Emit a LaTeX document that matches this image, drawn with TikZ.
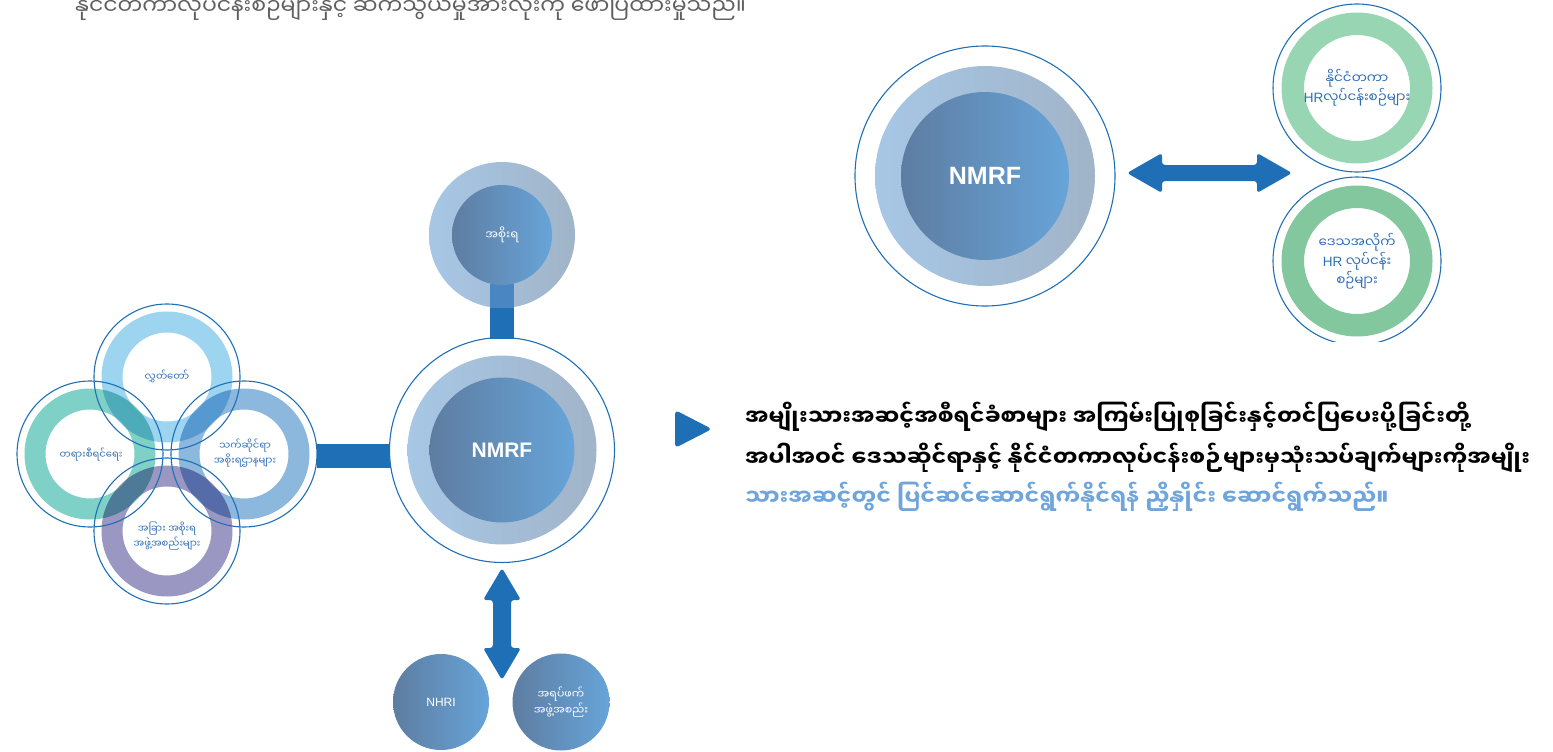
\documentclass[tikz,border=0pt]{standalone}
\usepackage{fontspec}
\setmainfont{Liberation Sans}
\newfontfamily\mm[Script=Myanmar]{Noto Sans Myanmar UI}
\usetikzlibrary{calc}
\definecolor{conn}{HTML}{1F6FB7}
\definecolor{connlt}{HTML}{4A86C1}
\definecolor{ringL}{HTML}{A7C7E6}
\definecolor{ringR}{HTML}{A1B4C8}
\definecolor{coreL}{HTML}{5E7DA1}
\definecolor{coreR}{HTML}{67A4D9}
\definecolor{lblue}{HTML}{2F6DB5}
\definecolor{txtgray}{HTML}{5F5F5F}
\definecolor{txtblue}{HTML}{6FA5DA}
\definecolor{cTop}{HTML}{9DD4F0}
\definecolor{cLeft}{HTML}{7FD0C6}
\definecolor{cRight}{HTML}{8CB8DD}
\definecolor{cBot}{HTML}{9B97C3}
\definecolor{gLight}{HTML}{98D5B3}
\definecolor{gDark}{HTML}{83C79E}
\tikzset{
  ringsh/.style={left color=ringL, right color=ringR, draw=none},
  coredisk/.style={circle, inner sep=0pt, left color=coreL, right color=coreR, draw=none, text=white, align=center},
  outl/.style={draw=conn, line width=1.1pt},
  lbl/.style={text=lblue, align=center, inner sep=0pt, font=\mm\fontsize{10}{12.5}\selectfont},
  glbl/.style={text=lblue, align=center, inner sep=0pt, font=\mm\fontsize{13.5}{15}\selectfont},
  bodytxt/.style={anchor=base west, inner sep=0pt, font=\mm\bfseries\fontsize{22.2}{26}\selectfont},
}
\begin{document}
\begin{tikzpicture}[x=1pt,y=-1pt]
\useasboundingbox (0,0) rectangle (1553,752);

% header line (cut at top)
\node[anchor=base west, inner sep=0pt, text=txtgray, font=\mm\fontsize{22}{26}\selectfont] (hdr) at (75,15) {နိုင်ငံတကာလုပ်ငန်းစဉ်များနှင့် ဆက်သွယ်မှုအားလုံးကို ဖော်ပြထားမှုသည်။};

% ---------- left cluster ----------
\coordinate (cT) at (167,377);
\coordinate (cL) at (90,454);
\coordinate (cR) at (244,454);
\coordinate (cB) at (167,531);

% horizontal bar to main NMRF
\fill[conn] (317,444) rectangle (392,468);

\begin{scope}[blend group=multiply]
  \fill[cTop, even odd rule] (cT) circle (65.5pt) (cT) circle (44.5pt);
  \fill[cLeft, even odd rule] (cL) circle (65.5pt) (cL) circle (44.5pt);
  \fill[cRight, even odd rule] (cR) circle (65.5pt) (cR) circle (44.5pt);
  \fill[cBot, even odd rule] (cB) circle (65.5pt) (cB) circle (44.5pt);
\end{scope}
\foreach \c in {cT,cL,cR,cB} \draw[outl] (\c) circle (73pt);

\node[lbl] (parl) at (167,376) {လွှတ်တော်};
\node[lbl] (jud) at (91,455) {တရားစီရင်ရေး};
\node[lbl] (mins) at (245,453) {သက်ဆိုင်ရာ\\အစိုးရဌာနများ};
\node[lbl] (othg) at (167,536) {အခြား အစိုးရ\\အဖွဲ့အစည်းများ};

% ---------- main NMRF ----------
\coordinate (m) at (502,450);
\draw[outl, fill=white] (m) circle (112.5pt);
\path[ringsh] (m) circle (94.5pt);
\node[coredisk, minimum size=145pt, font=\bfseries\fontsize{21}{24}\selectfont] (nmrf) at (m) {NMRF};

% ---------- government circle ----------
\coordinate (g) at (502,235);
\path[ringsh] (g) circle (73pt);
\fill[connlt] (490,284) rectangle (514,308);
\fill[conn] (490,308) rectangle (514,339);
\node[coredisk, minimum size=100pt, font=\mm\fontsize{12}{14}\selectfont] (gov) at (g) {အစိုးရ};

% ---------- vertical double arrow ----------
\coordinate (vT) at (502,568);
\coordinate (vB) at (502,680);
\fill[conn, rounded corners=3pt] (vT) -- ($(vT)+(19,32)$) -- ($(vT)+(9,32)$) -- ($(vB)+(9,-32)$) -- ($(vB)+(19,-32)$) -- (vB) -- ($(vB)+(-19,-32)$) -- ($(vB)+(-9,-32)$) -- ($(vT)+(-9,32)$) -- ($(vT)+(-19,32)$) -- cycle;

% ---------- NHRI & CSO ----------
\node[coredisk, minimum size=96pt, font=\fontsize{12}{14}\selectfont] (nhri) at (441,702) {NHRI};
\node[coredisk, minimum size=97pt, font=\mm\fontsize{11}{13}\selectfont] (cso) at (561,702) {အရပ်ဖက်\\အဖွဲ့အစည်း};

% ---------- top-right NMRF ----------
\coordinate (m2) at (985,176);
\draw[outl] (m2) circle (130pt);
\path[ringsh] (m2) circle (110pt);
\node[coredisk, minimum size=168pt, font=\bfseries\fontsize{25}{28}\selectfont] (nmrf2) at (m2) {NMRF};

% horizontal double arrow
\coordinate (hL) at (1127,173);
\coordinate (hR) at (1292,173);
\fill[conn, rounded corners=3pt] (hL) -- ($(hL)+(35,-20)$) -- ($(hL)+(35,-8)$) -- ($(hR)+(-35,-8)$) -- ($(hR)+(-35,-20)$) -- (hR) -- ($(hR)+(-35,20)$) -- ($(hR)+(-35,8)$) -- ($(hL)+(35,8)$) -- ($(hL)+(35,20)$) -- cycle;

% green circles
\begin{scope}
  \clip (1250,0) rectangle (1460,341);
  \coordinate (gA) at (1357,88);
  \coordinate (gB) at (1357,261);
  \fill[gLight, even odd rule] (gA) circle (75.5pt) (gA) circle (53pt);
  \draw[outl] (gA) circle (84pt);
  \fill[gDark, even odd rule] (gB) circle (75.5pt) (gB) circle (53pt);
  \draw[outl] (gB) circle (84pt);
\end{scope}
\node[glbl] (intl) at (1357,88) {နိုင်ငံတကာ\\{\fontspec{Liberation Sans}HR}လုပ်ငန်းစဉ်များ};
\node[glbl] (reg) at (1357,261) {ဒေသအလိုက်\\{\fontspec{Liberation Sans}HR} လုပ်ငန်း\\စဉ်များ};

% ---------- play marker & body text ----------
\coordinate (pm) at (675,410);
\fill[conn, rounded corners=4pt] (pm) -- ($(pm)+(37,19)$) -- ($(pm)+(0,38)$) -- cycle;

\node[bodytxt] (b1) at (745,425) {အမျိုးသားအဆင့်အစီရင်ခံစာများ အကြမ်းပြုစုခြင်းနှင့်တင်ပြပေးပို့ခြင်းတို့};
\node[bodytxt] (b2) at (745,466) {အပါအဝင် ဒေသဆိုင်ရာနှင့် နိုင်ငံတကာလုပ်ငန်းစဉ်များမှသုံးသပ်ချက်များကိုအမျိုး};
\node[bodytxt, text=txtblue] (b3) at (745,505) {သားအဆင့်တွင် ပြင်ဆင်ဆောင်ရွက်နိုင်ရန် ညှိနှိုင်း ဆောင်ရွက်သည်။};
\end{tikzpicture}
\end{document}
